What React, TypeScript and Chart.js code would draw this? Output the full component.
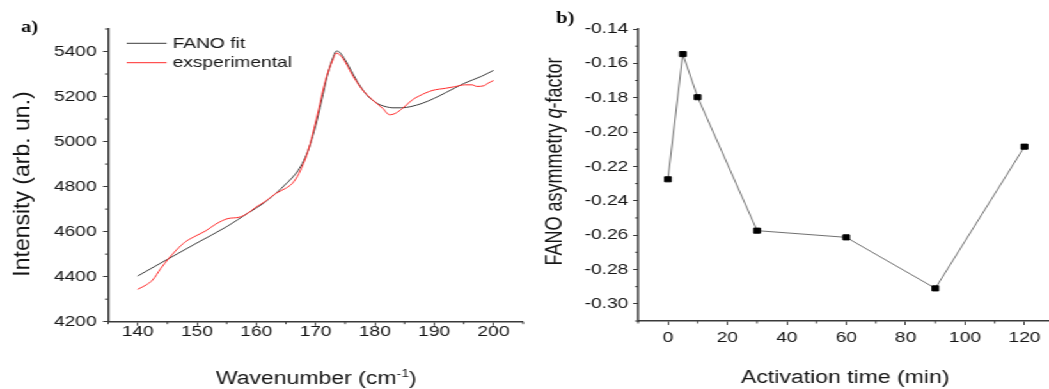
import React, { useEffect, useRef } from 'react';
import { Chart, registerables } from 'chart.js';

Chart.register(...registerables);

// ---------- data ----------
const fitWavenumber = [140, 145, 150, 155, 158.5, 161, 163.3, 165, 166, 167, 168, 169, 170, 171, 172, 173, 173.5, 174, 175, 176, 177, 178, 179, 180, 181, 182, 183, 184.5, 186, 188, 190, 192, 195, 198, 200];
const fitIntensity = [4403, 4477, 4550, 4622, 4681, 4722, 4770, 4812, 4838, 4870, 4915, 4980, 5070, 5180, 5295, 5378, 5402, 5398, 5362, 5315, 5268, 5228, 5197, 5176, 5162, 5154, 5150, 5150, 5155, 5170, 5192, 5218, 5258, 5290, 5316];

const expWavenumber = [140, 141.4, 142.5, 143.9, 145.1, 146.5, 148.1, 149.8, 151.5, 153.2, 155.2, 157.1, 158.5, 159.9, 161.6, 163.3, 165, 166.1, 167.2, 168.7, 170.1, 171.7, 172.9, 173.5, 174.6, 176.2, 177.9, 179.6, 181.3, 182.5, 183.5, 184.7, 186.3, 187.5, 189.7, 192, 193.5, 195.2, 196.4, 197.2, 198.4, 199, 200];
const expIntensity = [4344, 4363, 4385, 4437, 4477, 4518, 4556, 4581, 4604, 4634, 4658, 4664, 4681, 4708, 4736, 4770, 4793, 4815, 4859, 4956, 5096, 5274, 5363, 5393, 5370, 5296, 5230, 5185, 5148, 5119, 5126, 5148, 5185, 5203, 5227, 5237, 5244, 5252, 5252, 5245, 5248, 5258, 5271];

const leftXTicks = [140, 150, 160, 170, 180, 190, 200];
const leftXMinor = [135, 145, 155, 165, 175, 185, 195, 205];
const leftYTicks = [4200, 4400, 4600, 4800, 5000, 5200, 5400];
const leftYMinor = [4300, 4500, 4700, 4900, 5100, 5300, 5500];

const activationTime = [0, 5, 10, 30, 60, 90, 120];
const qFactor = [-0.2275, -0.1546, -0.1797, -0.2574, -0.2613, -0.291, -0.2085];

const rightXTicks = [0, 20, 40, 60, 80, 100, 120];
const rightXMinor = [-10, 10, 30, 50, 70, 90, 110];
const rightYTicks = [-0.30, -0.28, -0.26, -0.24, -0.22, -0.20, -0.18, -0.16, -0.14];
const rightYMinor = [-0.31, -0.29, -0.27, -0.25, -0.23, -0.21, -0.19, -0.17, -0.15];

const leftLegend = ['FANO fit', 'exsperimental'];

// ---------- style ----------
const SX = 1049 / 820;
const FONT = '"Liberation Sans", Arial, Helvetica, sans-serif';
const SERIF = '"Liberation Serif", "Times New Roman", serif';
const INK = '#151515';
const AXIS = '#3a3a3a';
const MINOR_LEN = 2.5;

type Run = { text: string; font: string; dy?: number };

function drawRuns(ctx: CanvasRenderingContext2D, runs: Run[], cx: number, cy: number) {
  let total = 0;
  const widths = runs.map((r) => {
    ctx.font = r.font;
    const w = ctx.measureText(r.text).width;
    total += w;
    return w;
  });
  let x = cx - total / 2;
  ctx.textAlign = 'left';
  runs.forEach((r, i) => {
    ctx.font = r.font;
    ctx.fillText(r.text, x, cy + (r.dy || 0));
    x += widths[i];
  });
}

function makeMinorTicks(xs: number[], ys: number[]) {
  return {
    id: 'minorTicks',
    afterDraw(chart: any) {
      const { ctx } = chart;
      const x = chart.scales.x;
      const y = chart.scales.y;
      ctx.save();
      ctx.strokeStyle = AXIS;
      ctx.lineWidth = 1;
      ctx.beginPath();
      xs.forEach((v) => {
        const p = x.getPixelForValue(v);
        ctx.moveTo(p, x.top);
        ctx.lineTo(p, x.top + MINOR_LEN);
      });
      ys.forEach((v) => {
        const p = y.getPixelForValue(v);
        ctx.moveTo(y.right, p);
        ctx.lineTo(y.right - MINOR_LEN, p);
      });
      ctx.stroke();
      ctx.restore();
    },
  };
}

function axisScale(min: number, max: number, ticks: number[], fmt: (v: number) => string, padding: number, fit: (s: any) => void) {
  return {
    type: 'linear' as const,
    min,
    max,
    afterBuildTicks: (s: any) => {
      s.ticks = ticks.map((v) => ({ value: v }));
    },
    ticks: {
      font: { size: 15, family: FONT },
      color: INK,
      padding,
      autoSkip: false,
      maxRotation: 0,
      callback: (v: any) => fmt(Number(v)),
    },
    grid: { drawOnChartArea: false, drawTicks: true, tickLength: 4, color: AXIS, lineWidth: 1 },
    border: { display: true, color: AXIS, width: 1.5 },
    afterFit: fit,
  };
}

const leftDecor = {
  id: 'leftDecor',
  afterDraw(chart: any) {
    const ctx: CanvasRenderingContext2D = chart.ctx;
    ctx.save();
    ctx.fillStyle = '#000';
    ctx.font = `bold 16px ${SERIF}`;
    ctx.textAlign = 'left';
    ctx.textBaseline = 'alphabetic';
    ctx.fillText('a)', 16.5, 31.5);

    // legend
    chart.data.datasets.forEach((ds: any, i: number) => {
      const yy = 43.3 + i * 19.4;
      ctx.strokeStyle = ds.borderColor;
      ctx.lineWidth = 1;
      ctx.beginPath();
      ctx.moveTo(99, yy);
      ctx.lineTo(130.2, yy);
      ctx.stroke();
      ctx.fillStyle = INK;
      ctx.font = `15px ${FONT}`;
      ctx.textBaseline = 'middle';
      ctx.textAlign = 'left';
      ctx.fillText(ds.label, 134.9, yy + 0.5);
    });

    // y title
    ctx.fillStyle = INK;
    ctx.save();
    ctx.translate(17.6, 184);
    ctx.rotate(-Math.PI / 2);
    ctx.scale(1, 0.78);
    ctx.font = `23px ${FONT}`;
    ctx.textAlign = 'center';
    ctx.textBaseline = 'middle';
    ctx.fillText('Intensity (arb. un.)', 0, 0);
    ctx.restore();

    // x title
    ctx.textBaseline = 'alphabetic';
    drawRuns(ctx, [
      { text: 'Wavenumber (cm', font: `18px ${FONT}` },
      { text: '-1', font: `11px ${FONT}`, dy: -7 },
      { text: ')', font: `18px ${FONT}` },
    ], 247.3, 383.5);
    ctx.restore();
  },
};

const rightDecor = {
  id: 'rightDecor',
  afterDraw(chart: any) {
    const ctx: CanvasRenderingContext2D = chart.ctx;
    ctx.save();
    ctx.fillStyle = '#000';
    ctx.font = `bold 16px ${SERIF}`;
    ctx.textAlign = 'left';
    ctx.textBaseline = 'alphabetic';
    ctx.fillText('b)', 14.8, 23);

    ctx.fillStyle = INK;
    ctx.save();
    ctx.translate(13.9, 161.5);
    ctx.rotate(-Math.PI / 2);
    ctx.textBaseline = 'middle';
    drawRuns(ctx, [
      { text: 'FANO asymmetry ', font: `18px ${FONT}` },
      { text: 'q', font: `italic 18px ${FONT}` },
      { text: '-factor', font: `18px ${FONT}` },
    ], 0, 0);
    ctx.restore();

    ctx.textBaseline = 'alphabetic';
    drawRuns(ctx, [{ text: 'Activation time (min)', font: `18px ${FONT}` }], 240.7, 382.5);
    ctx.restore();
  },
};

export default function App() {
  const leftRef = useRef<HTMLCanvasElement>(null);
  const rightRef = useRef<HTMLCanvasElement>(null);

  useEffect(() => {
    const left = new Chart(leftRef.current as HTMLCanvasElement, {
      type: 'line',
      data: {
        datasets: [
          {
            label: leftLegend[0],
            data: fitWavenumber.map((x, i) => ({ x, y: fitIntensity[i] })),
            borderColor: '#3d3d3d',
            borderWidth: 1,
            pointRadius: 0,
            cubicInterpolationMode: 'monotone',
            order: 1,
          },
          {
            label: leftLegend[1],
            data: expWavenumber.map((x, i) => ({ x, y: expIntensity[i] })),
            borderColor: '#ff2b2b',
            borderWidth: 1,
            pointRadius: 0,
            cubicInterpolationMode: 'monotone',
            order: 0,
          },
        ],
      },
      options: {
        animation: false,
        responsive: false,
        maintainAspectRatio: false,
        devicePixelRatio: 1,
        layout: { padding: { top: 29, right: 1.1, left: 0, bottom: 0 }, autoPadding: false },
        plugins: { legend: { display: false }, tooltip: { enabled: false }, title: { display: false } },
        scales: {
          x: axisScale(135, 205, leftXTicks, (v) => String(v), -3, (s: any) => {
            s.height = 67.3;
            s.paddingLeft = 0;
            s.paddingRight = 0;
          }),
          y: axisScale(4200, 5500, leftYTicks, (v) => String(v), 5, (s: any) => {
            s.width = 84.5;
            s.paddingTop = 0;
            s.paddingBottom = 0;
          }),
        },
      } as any,
      plugins: [makeMinorTicks(leftXMinor, leftYMinor), leftDecor],
    } as any);

    const right = new Chart(rightRef.current as HTMLCanvasElement, {
      type: 'line',
      data: {
        datasets: [
          {
            label: 'q-factor',
            data: activationTime.map((x, i) => ({ x, y: qFactor[i] })),
            borderColor: '#707070',
            borderWidth: 1,
            pointStyle: 'rect',
            pointRadius: 3.6,
            pointBackgroundColor: '#000',
            pointBorderColor: '#000',
            pointBorderWidth: 1,
            tension: 0,
          },
        ],
      },
      options: {
        animation: false,
        responsive: false,
        maintainAspectRatio: false,
        devicePixelRatio: 1,
        layout: { padding: { top: 29, right: 0.6, left: 0, bottom: 0 }, autoPadding: false },
        plugins: { legend: { display: false }, tooltip: { enabled: false }, title: { display: false } },
        scales: {
          x: axisScale(-10, 128, rightXTicks, (v) => String(v), 4, (s: any) => {
            s.height = 68;
            s.paddingLeft = 0;
            s.paddingRight = 0;
          }),
          y: axisScale(-0.31, -0.14, rightYTicks, (v) => v.toFixed(2), 3.8, (s: any) => {
            s.width = 78.9;
            s.paddingTop = 0;
            s.paddingBottom = 0;
          }),
        },
      } as any,
      plugins: [makeMinorTicks(rightXMinor, rightYMinor), rightDecor],
    } as any);

    return () => {
      left.destroy();
      right.destroy();
    };
  }, []);

  return (
    <div
      style={{
        position: 'absolute',
        left: 0,
        top: 0,
        width: 820,
        height: 389,
        transform: `scaleX(${SX})`,
        transformOrigin: '0 0',
        background: '#fff',
        overflow: 'hidden',
      }}
    >
      <canvas ref={leftRef} width={410} height={389} style={{ position: 'absolute', left: 0, top: 0, display: 'block' }} />
      <canvas ref={rightRef} width={400} height={389} style={{ position: 'absolute', left: 420, top: 0, display: 'block' }} />
    </div>
  );
}
